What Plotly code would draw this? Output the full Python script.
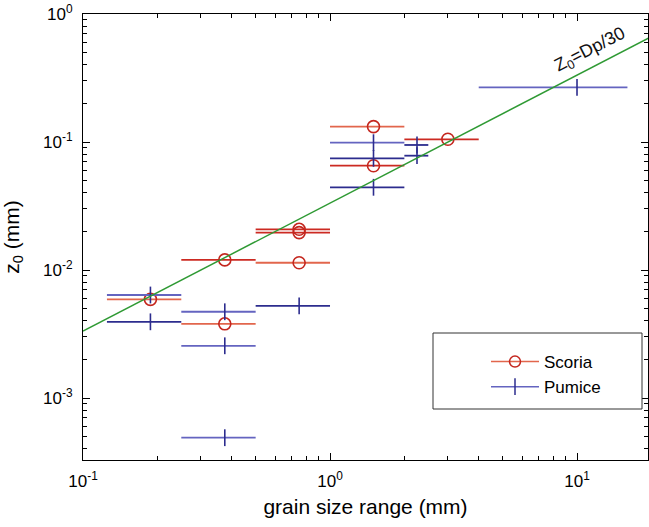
import plotly.graph_objects as go

# ---- data ----
scoria_x = [0.1875, 0.375, 0.375, 0.75, 0.75, 0.75, 1.5, 1.5, 3.0]
scoria_lo = [0.125, 0.25, 0.25, 0.5, 0.5, 0.5, 1.0, 1.0, 2.0]
scoria_hi = [0.25, 0.5, 0.5, 1.0, 1.0, 1.0, 2.0, 2.0, 4.0]
scoria_z0 = [0.0059, 0.0120, 0.0038, 0.0208, 0.0196, 0.0114, 0.132, 0.0653, 0.105]
scoria_shade = ["light", "dark", "light", "dark", "dark", "light", "light", "dark", "dark"]

pumice_x = [0.1875, 0.1875, 0.375, 0.375, 0.375, 0.75, 1.5, 1.5, 1.5, 2.25, 2.25, 10.0]
pumice_lo = [0.125, 0.125, 0.25, 0.25, 0.25, 0.5, 1.0, 1.0, 1.0, 2.0, 2.0, 4.0]
pumice_hi = [0.25, 0.25, 0.5, 0.5, 0.5, 1.0, 2.0, 2.0, 2.0, 2.5, 2.5, 16.0]
pumice_z0 = [0.00638, 0.00394, 0.00472, 0.00256, 0.00049, 0.00524, 0.0988, 0.0745, 0.0443, 0.0948, 0.0782, 0.267]
pumice_shade = ["light", "dark", "light", "light", "light", "dark", "light", "dark", "dark", "dark", "dark", "light"]

fit_dp = [0.1, 25.0]
fit_ratio = 30.0  # Z0 = Dp/30

x_tickvals = [0.1, 1, 10]
x_ticktext = ["10<sup>-1</sup>", "10<sup>0</sup>", "10<sup>1</sup>"]
y_tickvals = [0.001, 0.01, 0.1, 1]
y_ticktext = ["10<sup>-3</sup>", "10<sup>-2</sup>", "10<sup>-1</sup>", "10<sup>0</sup>"]

# ---- styles ----
FONT = "Arial, Liberation Sans, sans-serif"
RED_LIGHT = "#e2664c"
RED_DARK = "#cc2a22"
RED_MARK = "#c4261e"
BLUE_LIGHT = "#6464c0"
BLUE_DARK = "#2c2c8e"
BLUE_MARK = "#2c2c8e"
GREEN = "#2f9a34"

W, H = 649, 527
ML, MR, MT, MB = 83, 1, 14, 67

fig = go.Figure()

def add_series(xs, lo, hi, ys, shades, name, marker, bar_colors):
    for shade in ("light", "dark"):
        idx = [i for i, s in enumerate(shades) if s == shade]
        if not idx:
            continue
        px = [xs[i] for i in idx]
        py = [ys[i] for i in idx]
        em = [xs[i] - lo[i] for i in idx]
        ep = [hi[i] - xs[i] for i in idx]
        fig.add_trace(go.Scatter(
            x=px, y=py, mode="markers", name=name, showlegend=False,
            marker=marker,
            error_x=dict(type="data", symmetric=False, array=ep, arrayminus=em,
                         color=bar_colors[shade], thickness=1.8, width=0),
        ))

add_series(scoria_x, scoria_lo, scoria_hi, scoria_z0, scoria_shade, "Scoria",
           dict(symbol="circle-open", size=12, color=RED_MARK, line=dict(width=1.6, color=RED_MARK)),
           {"light": RED_LIGHT, "dark": RED_DARK})
add_series(pumice_x, pumice_lo, pumice_hi, pumice_z0, pumice_shade, "Pumice",
           dict(symbol="line-ns", size=12, color=BLUE_MARK, line=dict(width=1.6, color=BLUE_MARK)),
           {"light": BLUE_LIGHT, "dark": BLUE_DARK})

# fit line Z0 = Dp/30
fig.add_trace(go.Scatter(x=fit_dp, y=[d / fit_ratio for d in fit_dp], mode="lines",
                         line=dict(color=GREEN, width=1.5), showlegend=False))

# legend entries
fig.add_trace(go.Scatter(x=[None], y=[None], mode="lines+markers", name="Scoria",
                         line=dict(color=RED_LIGHT, width=1.5),
                         marker=dict(symbol="circle-open", size=11, color=RED_MARK, line=dict(width=1.5))))
fig.add_trace(go.Scatter(x=[None], y=[None], mode="lines+markers", name="Pumice",
                         line=dict(color=BLUE_LIGHT, width=1.5),
                         marker=dict(symbol="line-ns", size=12, color=BLUE_MARK, line=dict(width=1.5, color=BLUE_MARK))))

fig.add_annotation(x=1.0526, y=-0.285, xref="x", yref="y", text="Z<sub>0</sub>=Dp/30",
                   showarrow=False, textangle=-27, font=dict(family=FONT, size=18, color="#111"))

# legend frame (px -> paper)
pw, ph = W - ML - MR, H - MT - MB
def pxx(px):
    return (px - ML) / pw
def pxy(py):
    return (H - MB - py) / ph

fig.add_shape(type="rect", xref="paper", yref="paper",
              x0=pxx(433), x1=pxx(642), y0=pxy(409), y1=pxy(333),
              line=dict(color="#333", width=1), fillcolor="white", layer="above")

axis_common = dict(type="log", showline=True, linecolor="black", linewidth=1, mirror="ticks",
                   ticks="inside", ticklen=7, tickcolor="black", showgrid=False, zeroline=False,
                   automargin=False, tickfont=dict(family=FONT, size=17, color="black"))

minor_vals = [m * 10 ** e for e in range(-4, 2) for m in range(2, 10)]

fig.update_layout(
    width=W, height=H,
    margin=dict(l=ML, r=MR, t=MT, b=MB),
    paper_bgcolor="white", plot_bgcolor="white",
    font=dict(family=FONT, size=17, color="black"),
    xaxis=dict(axis_common, range=[-1, 1.2874], tickvals=x_tickvals, ticktext=x_ticktext,
               ticklabelstandoff=6,
               minor=dict(ticks="inside", ticklen=4, tickcolor="black", tickvals=minor_vals),
               title=dict(text="grain size range (mm)", font=dict(family=FONT, size=21), standoff=8)),
    yaxis=dict(axis_common, range=[-3.484, 0], tickvals=y_tickvals, ticktext=y_ticktext,
               ticklabelstandoff=6,
               minor=dict(ticks="inside", ticklen=4, tickcolor="black", tickvals=minor_vals),
               title=dict(text="z<sub>0</sub> (mm)", font=dict(family=FONT, size=21), standoff=18)),
    legend=dict(x=pxx(486), y=pxy(344), xanchor="left", yanchor="top", bgcolor="rgba(0,0,0,0)",
                borderwidth=0, font=dict(family=FONT, size=17),
                itemwidth=48, tracegroupgap=0),
    showlegend=True,
)

fig.write_html("out.html", config={"displayModeBar": False},
               post_script="document.body.style.margin='0';document.body.style.overflow='hidden';")
